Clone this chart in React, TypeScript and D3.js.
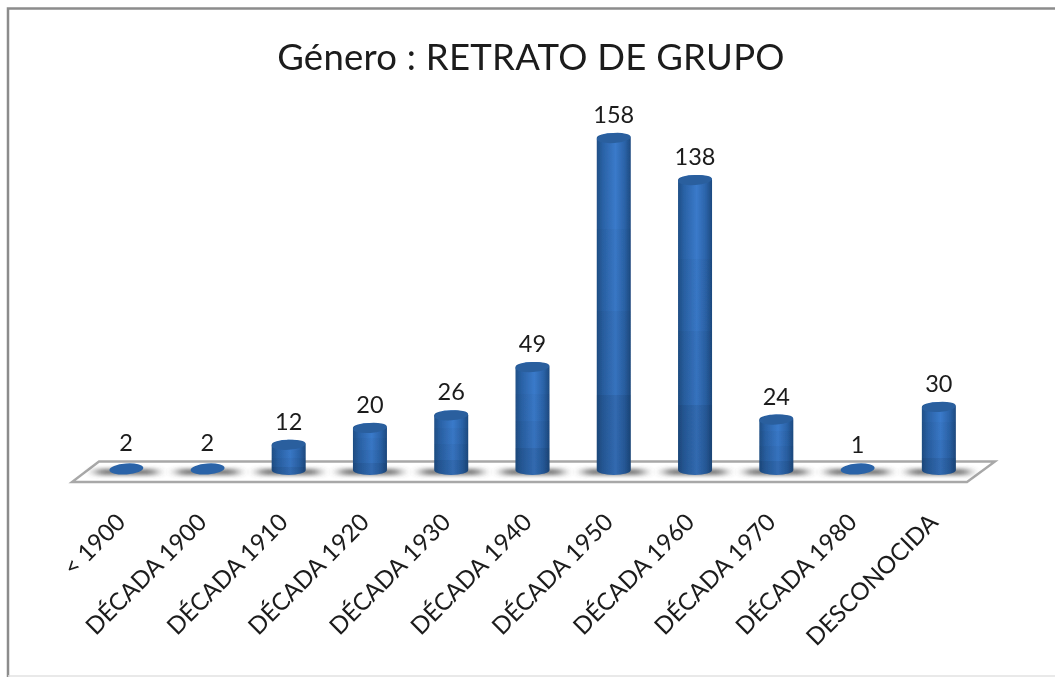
import React from "react";
import * as d3 from "d3";

const titleText = "Género : RETRATO DE GRUPO";
const categories = ["< 1900", "DÉCADA 1900", "DÉCADA 1910", "DÉCADA 1920", "DÉCADA 1930", "DÉCADA 1940", "DÉCADA 1950", "DÉCADA 1960", "DÉCADA 1970", "DÉCADA 1980", "DESCONOCIDA"];
const values = [2, 2, 12, 20, 26, 49, 158, 138, 24, 1, 30];

const W = 1055, H = 677;
const x = d3.scaleBand<string>().domain(categories).range([85.5, 979.5]).padding(0);
const y = d3.scaleLinear().domain([0, 158]).range([470, 138]);
const font = "Lato, 'Open Sans', sans-serif";
const rx = 17, ry = 5;

function cylinder(cx: number, top: number, base: number) {
  return `M${cx - rx},${top} A${rx},${ry} 0 0 1 ${cx + rx},${top} L${cx + rx},${base} A${rx},${ry} 0 0 1 ${cx - rx},${base} Z`;
}

export default function App() {
  const stops = [
    [0, 0], [0.28, 0], [0.28, 0.04], [0.52, 0.04], [0.52, 0.09], [0.765, 0.09], [0.765, 0.19], [1, 0.19],
  ];
  return (
    <svg width={W} height={H} viewBox={`0 0 ${W} ${H}`} style={{ position: "absolute", left: 0, top: 0, background: "#fff" }}>
      <defs>
        <linearGradient id="cyl" x1="0" x2="1" y1="0" y2="0">
          <stop offset="0" stopColor="#1f4f86" />
          <stop offset="0.18" stopColor="#2a62a6" />
          <stop offset="0.55" stopColor="#3a7aca" />
          <stop offset="0.82" stopColor="#2b63a8" />
          <stop offset="1" stopColor="#1d4a80" />
        </linearGradient>
        <linearGradient id="bands" x1="0" x2="0" y1="0" y2="1">
          {stops.map(([o, a], i) => <stop key={i} offset={o} stopColor="#0d2340" stopOpacity={a} />)}
        </linearGradient>
        <filter id="shadow" x="-40%" y="-200%" width="180%" height="500%"><feGaussianBlur stdDeviation="6 2.2" /></filter>
        <filter id="soft" x="-5%" y="-5%" width="110%" height="110%"><feGaussianBlur stdDeviation="0.5" /></filter>
      </defs>
      <g filter="url(#soft)">
        <path d="M8,677 L8,8.5 L1055,8.5" fill="none" stroke="#8c8c8c" strokeWidth={2.5} />
        <line x1={8} x2={1055} y1={676} y2={676} stroke="#e2e2e2" strokeWidth={1.5} />
        <text x={531} y={70} textAnchor="middle" fontFamily={font} fontSize={36.5} letterSpacing={0.25} fill="#1a1a1a">{titleText}</text>
        <path d="M99,461.5 L995,461.5 L967,482 L72,482 Z" fill="#fff" stroke="#a8a8a8" strokeWidth={2.4} />
        {categories.map((c) => {
          const cx = x(c)! + x.bandwidth() / 2;
          return <rect key={c} x={cx - 30} y={469} width={60} height={6} fill="#444" opacity={0.75} filter="url(#shadow)" />;
        })}
        {categories.map((c, i) => {
          const cx = x(c)! + x.bandwidth() / 2;
          const top = y(values[i]);
          const base = y(0);
          const h = base - top;
          return (
            <g key={c}>
              {h > 6 && <path d={cylinder(cx, top, base)} fill="url(#cyl)" />}
              {h > 6 && <path d={cylinder(cx, top, base)} fill="url(#bands)" />}
              <ellipse cx={cx} cy={h > 6 ? top : base - 1} rx={rx} ry={h > 6 ? ry : 5.5} fill={h > 6 ? "#2a5f9e" : "#2a64a8"} transform={`rotate(-4 ${cx} ${top})`} />
              <text x={cx} y={top - 15} textAnchor="middle" fontFamily={font} fontSize={23.5} fill="#1a1a1a">{values[i]}</text>
              <text transform={`translate(${cx - 10},${513}) rotate(-45)`} textAnchor="end" dominantBaseline="hanging" fontFamily={font} fontSize={24} fill="#1a1a1a" dy={-4}>{c}</text>
            </g>
          );
        })}
      </g>
    </svg>
  );
}
